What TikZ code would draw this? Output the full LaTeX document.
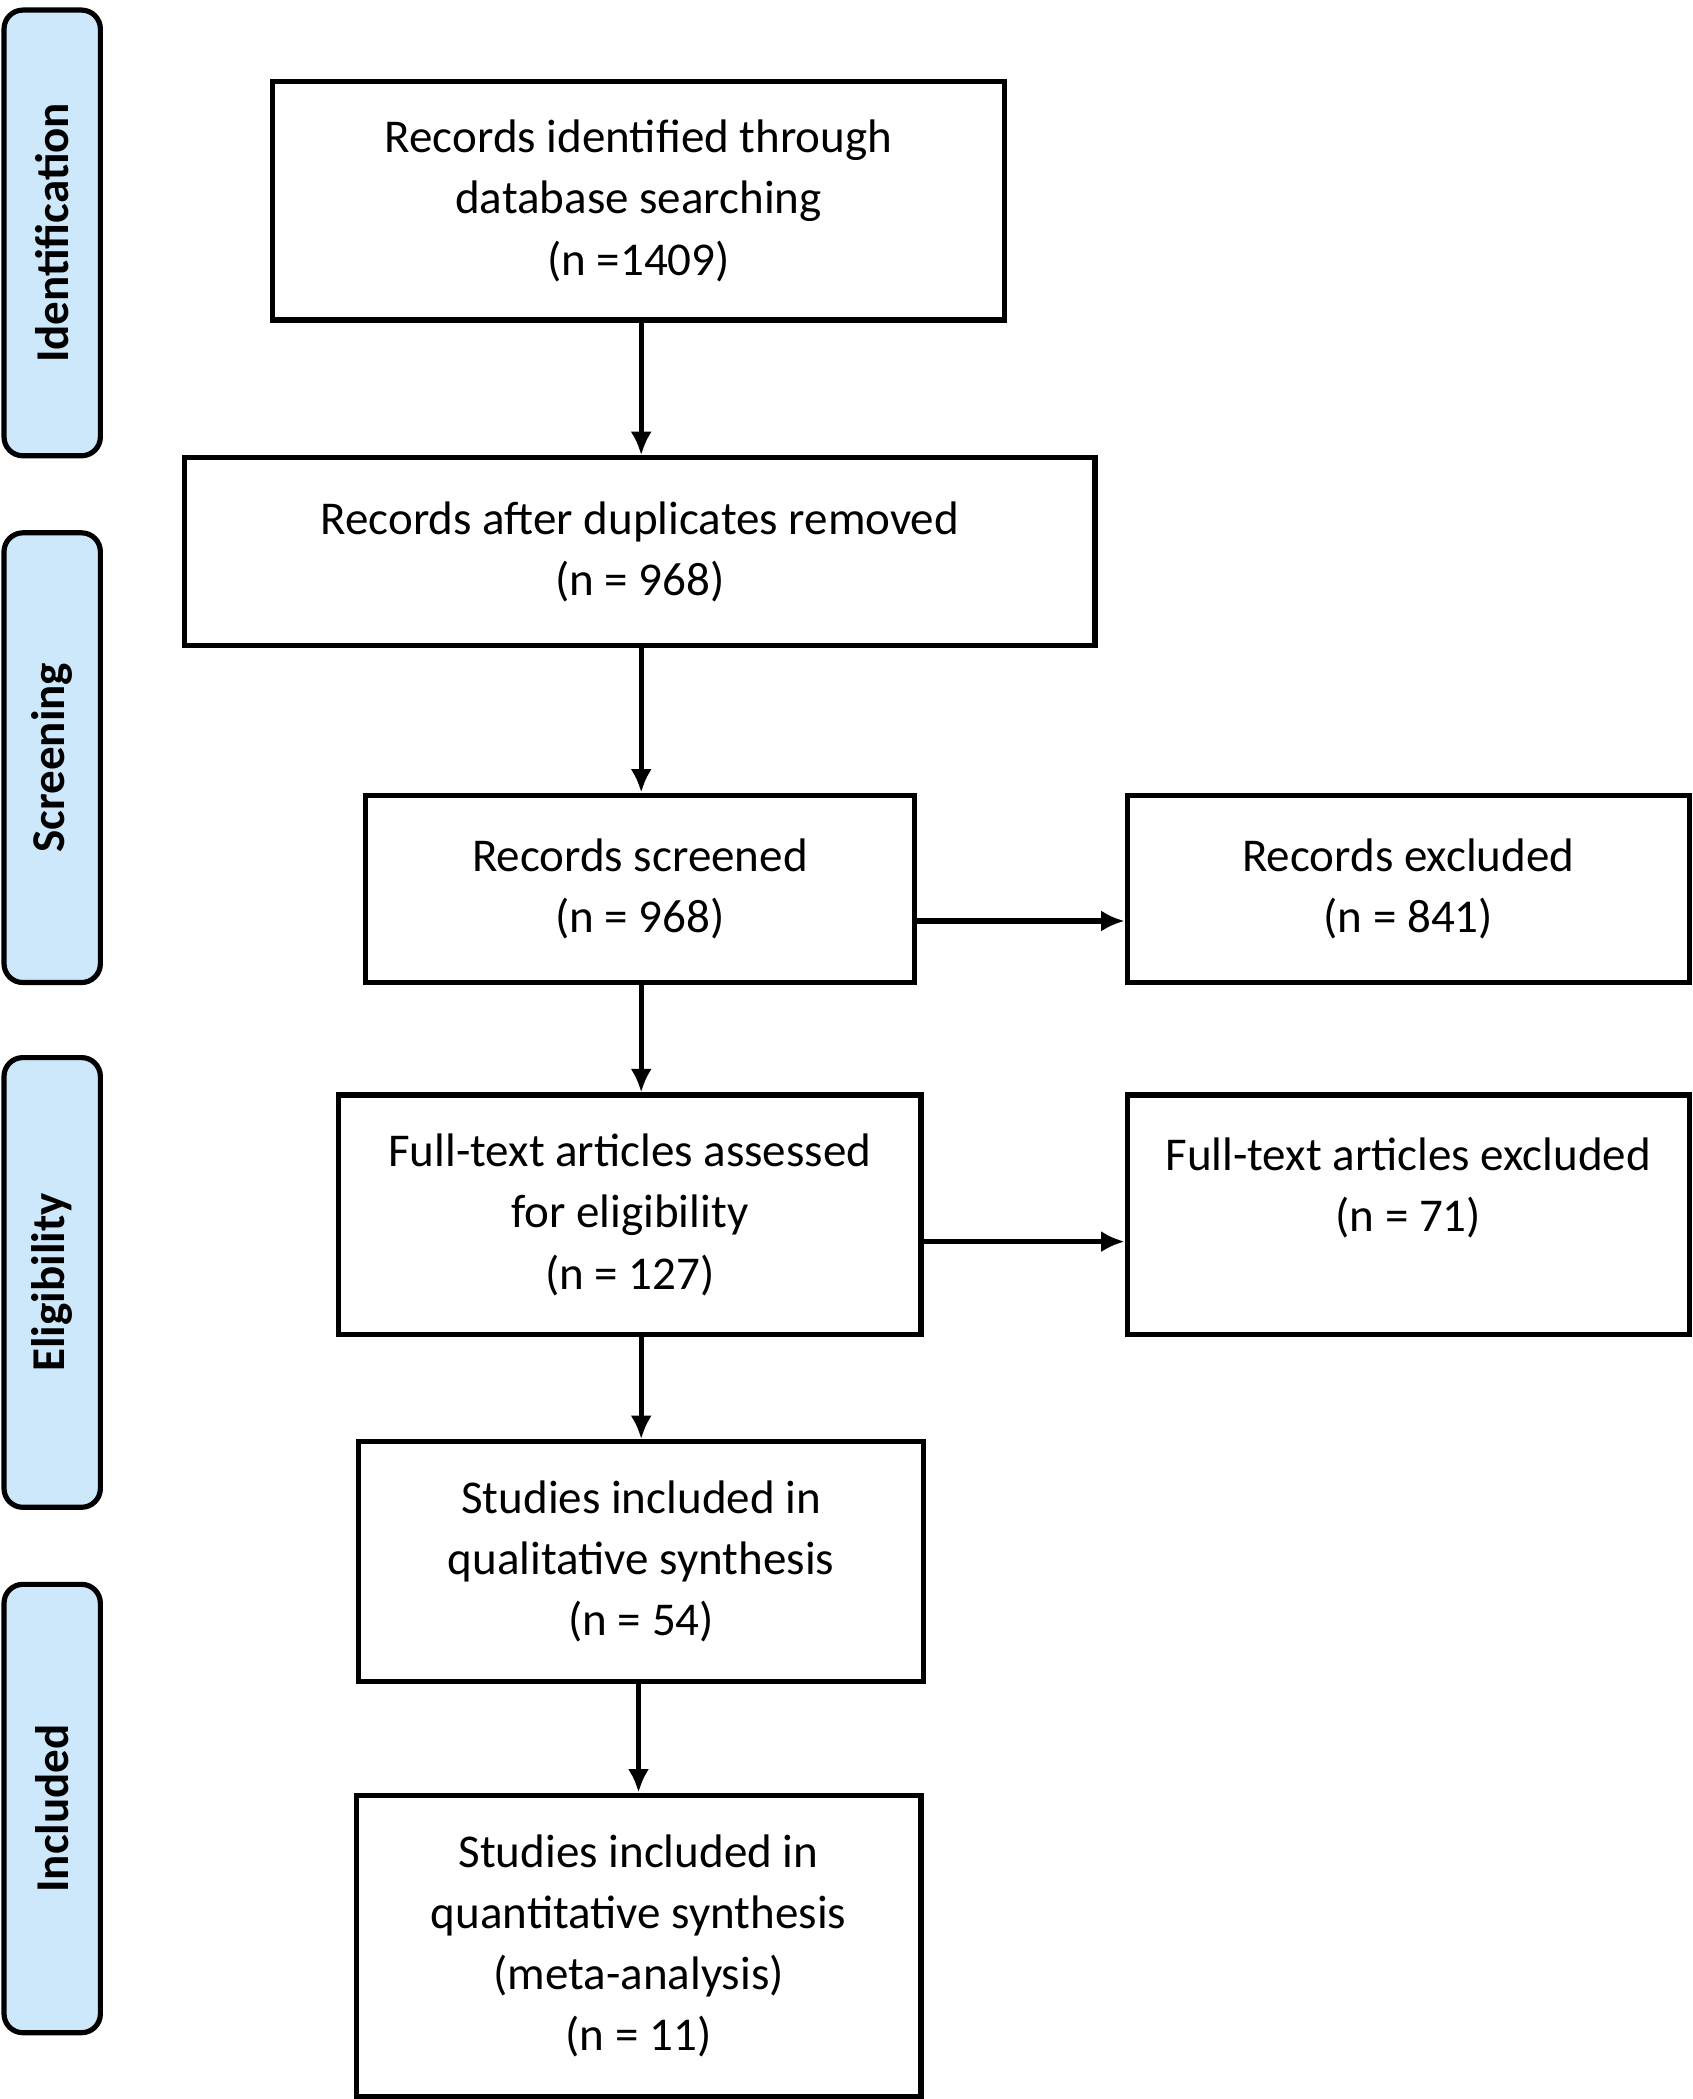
\documentclass[tikz,border=0pt]{standalone}
\usepackage{fontspec}
\setmainfont{Carlito}
\usetikzlibrary{positioning,arrows.meta}
\definecolor{stagefill}{RGB}{205,232,250}

\begin{document}
\begin{tikzpicture}[x=0.02cm,y=-0.02cm,>={Latex[length=10pt,width=9pt]},
   box/.style={draw, line width=2.2pt, align=center, inner sep=0pt,
      font=\fontsize{20}{26}\selectfont},
   stage/.style={draw, line width=2.2pt, rounded corners=8pt, fill=stagefill,
      minimum height=1.44cm, rotate=90, inner sep=0pt,
      font=\bfseries\fontsize{20}{24}\selectfont},
   flow/.style={->, line width=2.2pt}]
   \useasboundingbox (0,0) rectangle (1264,1568);

   \node[stage, minimum width=6.66cm] (id_s)   at (39,174)  {Identification};
   \node[stage, minimum width=6.72cm] (scr_s)  at (39,566)  {Screening};
   \node[stage, minimum width=6.72cm] (elig_s) at (39,958)  {Eligibility};
   \node[stage, minimum width=6.7cm]  (inc_s)  at (39,1351) {Included};

   \node[box, minimum width=10.94cm, minimum height=3.56cm] (ident) at (477,150)
      {Records identified through\\database searching\\(n =1409)};
   \node[box, minimum width=13.6cm, minimum height=2.8cm] (dup) at (478,412)
      {Records after duplicates removed\\(n = 968)};
   \node[box, minimum width=8.2cm, minimum height=2.8cm] (screen) at (478,664)
      {Records screened\\(n = 968)};
   \node[box, minimum width=8.4cm, minimum height=2.8cm] (excl) at (1052,664)
      {Records excluded\\(n = 841)};
   \node[box, minimum width=8.7cm, minimum height=3.58cm] (full) at (470.5,907.5)
      {Full-text articles assessed\\for eligibility\\(n = 127)};
   \node[box, minimum width=8.4cm, minimum height=3.58cm] (fexcl) at (1052,907.5)
      {Full-text articles excluded\\(n = 71)\\\mbox{}};
   \node[box, minimum width=8.44cm, minimum height=3.58cm] (qual) at (479,1166.5)
      {Studies included in\\qualitative synthesis\\(n = 54)};
   \node[box, minimum width=8.44cm, minimum height=4.5cm] (quant) at (477,1453.5)
      {Studies included in\\quantitative synthesis\\(meta-analysis)\\(n = 11)};

   \coordinate (s_out) at ([yshift=-0.48cm]screen.east);
   \coordinate (f_out) at ([yshift=-0.4cm]full.east);

   \draw[flow] (ident.south -| 479,0) -- (dup.north -| 479,0);
   \draw[flow] (dup.south -| 479,0)   -- (screen.north -| 479,0);
   \draw[flow] (screen.south -| 479,0) -- (full.north -| 479,0);
   \draw[flow] (full.south -| 479,0)  -- (qual.north -| 479,0);
   \draw[flow] (qual.south -| 477,0)  -- (quant.north -| 477,0);
   \draw[flow] (s_out) -- (s_out -| excl.west);
   \draw[flow] (f_out) -- (f_out -| fexcl.west);
\end{tikzpicture}
\end{document}
